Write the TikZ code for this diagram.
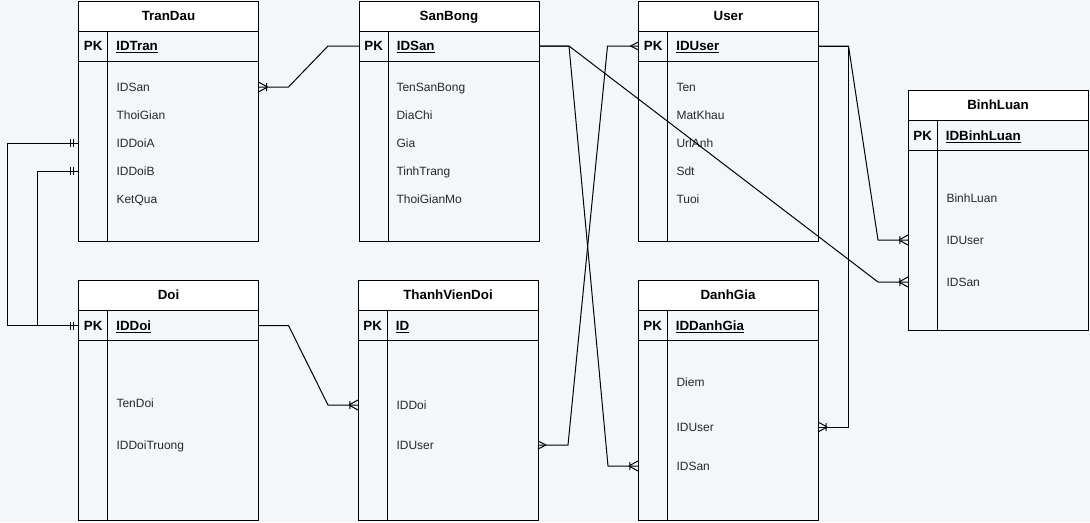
\documentclass[tikz,border=0pt]{standalone}
\usepackage{fontspec}
\setmainfont{Liberation Sans}
\usetikzlibrary{positioning, calc, decorations.markings}
\definecolor{bgcol}{RGB}{244,247,250}
\definecolor{txtcol}{RGB}{40,40,40}
\tikzstyle{tblhead} = [rectangle, draw=black, fill=white, minimum width=135pt, minimum height=22.5pt, outer sep=0pt, inner sep=0pt, font=\bfseries, text height=7.5pt, text depth=1pt, anchor=north west]
\tikzstyle{pkrow} = [rectangle, draw=black, minimum width=135pt, minimum height=22.5pt, outer sep=0pt, inner sep=0pt]
\tikzstyle{tblbody} = [rectangle, draw=black, minimum width=135pt, minimum height=135pt, outer sep=0pt, inner sep=0pt]
\tikzstyle{pk} = [inner sep=0pt, font=\bfseries, text height=8pt, text depth=1pt]
\tikzstyle{field} = [anchor=west, inner sep=0pt, text=txtcol, text height=8pt, text depth=1pt]
\tikzstyle{pkfield} = [field, text=black, font=\bfseries]
\tikzstyle{conn} = [draw]
% ER end markers
\tikzstyle{onemany end} = [postaction={decorate, decoration={markings, mark=at position 0.9999 with {\draw (-9,0) -- (0,5) (-9,0) -- (0,-5) (-8,-4) -- (-8,4);}}}]
\tikzstyle{many end} = [postaction={decorate, decoration={markings, mark=at position 0.9999 with {\draw (-8,0) -- (0,4) (-8,0) -- (0,-4);}}}]
\tikzstyle{many start} = [postaction={decorate, decoration={markings, mark=at position 0.0001 with {\draw (8,0) -- (0,4) (8,0) -- (0,-4);}}}]
\tikzstyle{mandone end} = [postaction={decorate, decoration={markings, mark=at position 0.9999 with {\draw (-5,-4) -- (-5,4) (-8,-4) -- (-8,4);}}}]
\tikzstyle{mandone start} = [postaction={decorate, decoration={markings, mark=at position 0.0001 with {\draw (5,-4) -- (5,4) (8,-4) -- (8,4);}}}]

\begin{document}
\begin{tikzpicture}[x=0.75pt, y=-0.75pt, line width=0.75pt, font=\fontsize{9}{11}\selectfont]
    \useasboundingbox (0,0) rectangle (1090,522);
    \fill[bgcol] (0,0) rectangle (1090,522);

    % TranDau
    \node[tblhead] (trandau) at (78.5,1) {TranDau};
    \node[pkrow, below=0pt of trandau] (trandau-pk) {};
    \node[tblbody, below=0pt of trandau-pk] (trandau-body) {};
    \draw ([xshift=22pt]trandau-pk.north west) -- ([xshift=22pt]trandau-body.south west);
    \node[pk] (trandau-pklbl) at ([xshift=11pt]trandau-pk.west) {PK};
    \node[pkfield] (trandau-IDTran) at ([xshift=28pt]trandau-pk.west) {\underline{IDTran}};
    \foreach \f/\y in {IDSan/87, ThoiGian/115, IDDoiA/143, IDDoiB/171, KetQua/199}
        \node[field] (trandau-\f) at (116,\y) {\f};

    % SanBong
    \node[tblhead] (sanbong) at (359,1) {SanBong};
    \node[pkrow, below=0pt of sanbong] (sanbong-pk) {};
    \node[tblbody, below=0pt of sanbong-pk] (sanbong-body) {};
    \draw ([xshift=22pt]sanbong-pk.north west) -- ([xshift=22pt]sanbong-body.south west);
    \node[pk] (sanbong-pklbl) at ([xshift=11pt]sanbong-pk.west) {PK};
    \node[pkfield] (sanbong-IDSan) at ([xshift=28pt]sanbong-pk.west) {\underline{IDSan}};
    \foreach \f/\y in {TenSanBong/87, DiaChi/115, Gia/143, TinhTrang/171, ThoiGianMo/199}
        \node[field] (sanbong-\f) at (396,\y) {\f};

    % User
    \node[tblhead] (user) at (638.5,1) {User};
    \node[pkrow, below=0pt of user] (user-pk) {};
    \node[tblbody, below=0pt of user-pk] (user-body) {};
    \draw ([xshift=22pt]user-pk.north west) -- ([xshift=22pt]user-body.south west);
    \node[pk] (user-pklbl) at ([xshift=11pt]user-pk.west) {PK};
    \node[pkfield] (user-IDUser) at ([xshift=28pt]user-pk.west) {\underline{IDUser}};
    \foreach \f/\y in {Ten/87, MatKhau/115, UrlAnh/143, Sdt/171, Tuoi/199}
        \node[field] (user-\f) at (676,\y) {\f};

    % BinhLuan
    \node[tblhead] (binhluan) at (908,90.5) {BinhLuan};
    \node[pkrow, below=0pt of binhluan] (binhluan-pk) {};
    \node[tblbody, below=0pt of binhluan-pk] (binhluan-body) {};
    \draw ([xshift=22pt]binhluan-pk.north west) -- ([xshift=22pt]binhluan-body.south west);
    \node[pk] (binhluan-pklbl) at ([xshift=11pt]binhluan-pk.west) {PK};
    \node[pkfield] (binhluan-IDBinhLuan) at ([xshift=28pt]binhluan-pk.west) {\underline{IDBinhLuan}};
    \foreach \f/\y in {BinhLuan/198, IDUser/240, IDSan/282}
        \node[field] (binhluan-\f) at (946,\y) {\f};

    % Doi
    \node[tblhead] (doi) at (78.5,280.5) {Doi};
    \node[pkrow, below=0pt of doi] (doi-pk) {};
    \node[tblbody, below=0pt of doi-pk] (doi-body) {};
    \draw ([xshift=22pt]doi-pk.north west) -- ([xshift=22pt]doi-body.south west);
    \node[pk] (doi-pklbl) at ([xshift=11pt]doi-pk.west) {PK};
    \node[pkfield] (doi-IDDoi) at ([xshift=28pt]doi-pk.west) {\underline{IDDoi}};
    \foreach \f/\y in {TenDoi/403, IDDoiTruong/445}
        \node[field] (doi-\f) at (116,\y) {\f};

    % ThanhVienDoi
    \node[tblhead] (thanhvien) at (358,280.5) {ThanhVienDoi};
    \node[pkrow, below=0pt of thanhvien] (thanhvien-pk) {};
    \node[tblbody, below=0pt of thanhvien-pk] (thanhvien-body) {};
    \draw ([xshift=22pt]thanhvien-pk.north west) -- ([xshift=22pt]thanhvien-body.south west);
    \node[pk] (thanhvien-pklbl) at ([xshift=11pt]thanhvien-pk.west) {PK};
    \node[pkfield] (thanhvien-ID) at ([xshift=28pt]thanhvien-pk.west) {\underline{ID}};
    \foreach \f/\y in {IDDoi/405, IDUser/445}
        \node[field] (thanhvien-\f) at (396,\y) {\f};

    % DanhGia
    \node[tblhead] (danhgia) at (638,280.5) {DanhGia};
    \node[pkrow, below=0pt of danhgia] (danhgia-pk) {};
    \node[tblbody, below=0pt of danhgia-pk] (danhgia-body) {};
    \draw ([xshift=22pt]danhgia-pk.north west) -- ([xshift=22pt]danhgia-body.south west);
    \node[pk] (danhgia-pklbl) at ([xshift=11pt]danhgia-pk.west) {PK};
    \node[pkfield] (danhgia-IDDanhGia) at ([xshift=28pt]danhgia-pk.west) {\underline{IDDanhGia}};
    \foreach \f/\y in {Diem/382, IDUser/427, IDSan/466}
        \node[field] (danhgia-\f) at (676,\y) {\f};

    % Relations
    \path[conn, onemany end] (sanbong-pk.west) -- ++(-31,0) -- ($(trandau-IDSan -| trandau-body.east)+(30,0)$) -- (trandau-IDSan -| trandau-body.east);
    \path[conn, onemany end] (sanbong-pk.east) -- ++(30,0) -- ($(danhgia-IDSan -| danhgia-body.west)+(-30,0)$) -- (danhgia-IDSan -| danhgia-body.west);
    \path[conn, onemany end] (sanbong-pk.east) -- ++(30,0) -- ($(binhluan-IDSan -| binhluan-body.west)+(-30,0)$) -- (binhluan-IDSan -| binhluan-body.west);
    \path[conn, many start, many end] (thanhvien-IDUser -| thanhvien-body.east) -- ++(30,0) -- ($(user-pk.west)+(-31,0)$) -- (user-pk.west);
    \path[conn, onemany end] (user-pk.east) -- ++(30,0) -- ($(binhluan-IDUser -| binhluan-body.west)+(-30,0)$) -- (binhluan-IDUser -| binhluan-body.west);
    \path[conn, onemany end] (user-pk.east) -- ++(30,0) |- (danhgia-IDUser -| danhgia-body.east);
    \path[conn, mandone start, mandone end] (trandau-IDDoiA -| trandau-body.west) -- ++(-71,0) |- (doi-pk.west);
    \path[conn, mandone start] (trandau-IDDoiB -| trandau-body.west) -- ++(-41,0) |- (doi-pk.west);
    \path[conn, onemany end] (doi-pk.east) -- ++(30,0) -- ($(thanhvien-IDDoi -| thanhvien-body.west)+(-30,0)$) -- (thanhvien-IDDoi -| thanhvien-body.west);
\end{tikzpicture}
\end{document}
